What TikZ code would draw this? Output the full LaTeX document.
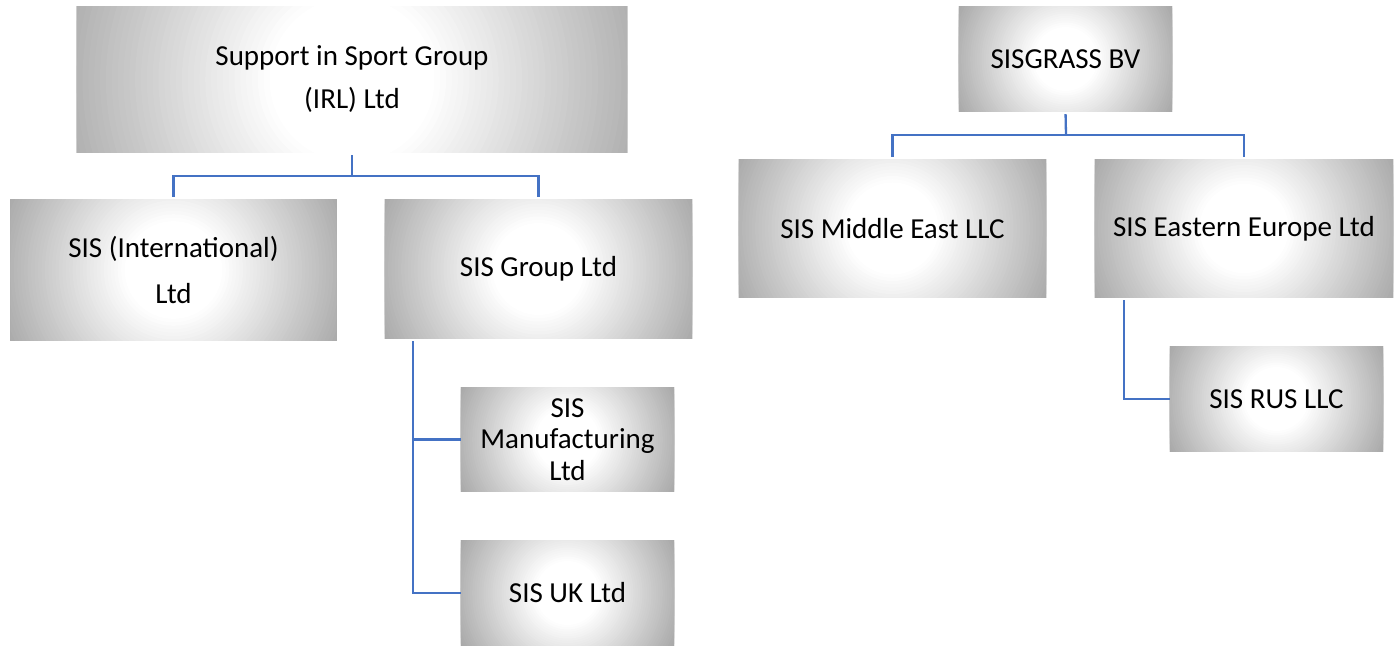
\documentclass[tikz,border=0pt]{standalone}
\usepackage{fontspec}
\setmainfont{Carlito}
\usepackage{tikz}
\usetikzlibrary{backgrounds}

\definecolor{linkblue}{HTML}{4472C4}

\begin{document}
\begin{tikzpicture}[x=1pt, y=-1pt,
	unit/.style = {rectangle, inner sep=0pt, align=center, font=\fontsize{29}{35}\selectfont},
	link/.style = {draw=linkblue, line width=2.3pt}]
	\useasboundingbox (0,0) rectangle (1399,645);
	% left group
	\node[unit, minimum width=550pt, minimum height=145pt, font=\fontsize{29}{43}\selectfont] (irl) at (352,79.5) {Support in Sport Group\\(IRL) Ltd};
	\node[unit, minimum width=326pt, minimum height=140pt, font=\fontsize{29}{46}\selectfont] (intl) at (173.5,270) {SIS (International)\\Ltd};
	\node[unit, minimum width=307pt, minimum height=138pt] (grp) at (538.5,269) {SIS Group Ltd};
	\node[unit, minimum width=213pt, minimum height=103pt, font=\fontsize{29}{31.5}\selectfont] (manu) at (567.5,439.5) {SIS\\Manufacturing\\Ltd};
	\node[unit, minimum width=213pt, minimum height=104pt] (uk) at (567.5,593) {SIS UK Ltd};
	% right group
	\node[unit, minimum width=213pt, minimum height=104pt] (bv) at (1065.5,59) {SISGRASS BV};
	\node[unit, minimum width=307pt, minimum height=137pt] (me) at (892.5,228.5) {SIS Middle East LLC};
	\node[unit, minimum width=298pt, minimum height=137pt] (ee) at (1244,228.5) {SIS Eastern Europe Ltd};
	\node[unit, minimum width=213pt, minimum height=104pt] (rus) at (1276.5,399) {SIS RUS LLC};
	% grey-to-white fill behind the text, as rings from the edge in
	\begin{scope}[on background layer]
		\fill[white] (0,0) rectangle (1399,645);
		\foreach \nm/\r in {irl/275, intl/163, grp/153.5, manu/106.5, uk/106.5, bv/106.5, me/153.5, ee/149, rus/106.5} {
			\begin{scope}
				\clip (\nm.south west) rectangle (\nm.north east);
				\fill[black!36] (\nm.south west) rectangle (\nm.north east);
				\foreach \k in {0,...,40} {
					\pgfmathsetmacro\rad{\r*(1.15-0.85*\k/40)}
					\pgfmathsetmacro\shd{35*(1-\k/40)}
					\fill[black!\shd] (\nm.center) circle[radius=\rad pt];
				}
			\end{scope}
		}
	\end{scope}
	% connectors
	\coordinate (j1) at (352,176);
	\draw[link, shorten <=3pt] (irl.south) -- (j1);
	\draw[link, shorten >=3pt] (j1) -| (intl.north);
	\draw[link, shorten >=3pt] (j1) -| (grp.north);
	\coordinate (j2) at ([xshift=28pt, yshift=-3pt]grp.south west);
	\draw[link] (j2) |- (manu.west);
	\draw[link] (j2) |- (uk.west);
	\coordinate (j3) at (1066,135);
	\draw[link, shorten <=3pt] (bv.south) -- (j3);
	\draw[link, shorten >=3pt] (j3) -| (me.north);
	\draw[link, shorten >=3pt] (j3) -| (ee.north);
	\coordinate (j4) at ([xshift=29pt, yshift=-3pt]ee.south west);
	\draw[link] (j4) |- (rus.west);
\end{tikzpicture}
\end{document}
